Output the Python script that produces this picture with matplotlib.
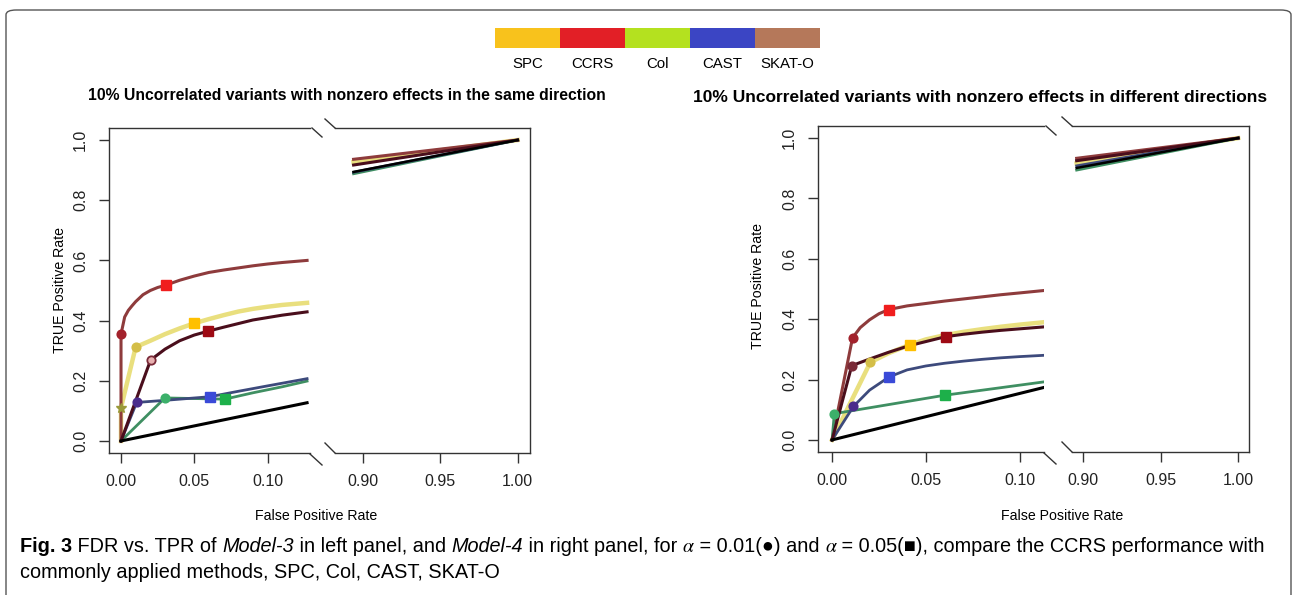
import matplotlib
matplotlib.use("Agg")
import matplotlib.pyplot as plt
from matplotlib.patches import FancyBboxPatch
from matplotlib.lines import Line2D

plt.rcParams['font.family'] = ['Liberation Sans', 'DejaVu Sans']

W, H = 1292, 595

# legend / methods
methods = ["SPC", "CCRS", "Col", "CAST", "SKAT-O"]
legend_colors = ["#F8C21C", "#E21F26", "#B4E11F", "#3B45C4", "#B5785A"]
line_colors = ["#E9DF7E", "#8E3B3C", "#3F8F62", "#3D4A7C", "#4A0E1C"]
line_widths = [3.2, 2.2, 2.0, 2.0, 2.2]
dot_colors = ["#D4BE48", "#A3222C", "#3CB06A", "#4A2C8C", "#7A2A38"]
square_colors = ["#FFC000", "#F01E1E", "#1DB04A", "#3A4AD8", "#9E0A14"]

# ---- Model-3 (left panel), low FPR range ----
m3_spc_fpr = [0, 0, 0.010, 0.02, 0.03, 0.04, 0.05, 0.06, 0.07, 0.08, 0.09, 0.10, 0.11, 0.127]
m3_spc_tpr = [0, 0.11, 0.312, 0.333, 0.355, 0.374, 0.391, 0.405, 0.418, 0.430, 0.439, 0.446, 0.452, 0.459]
m3_ccrs_fpr = [0, 0, 0.0025, 0.005, 0.0075, 0.01, 0.015, 0.02, 0.025, 0.0307, 0.04, 0.05, 0.06, 0.07,
               0.08, 0.09, 0.10, 0.11, 0.127]
m3_ccrs_tpr = [0, 0.355, 0.412, 0.434, 0.449, 0.463, 0.486, 0.500, 0.510, 0.518, 0.534, 0.548, 0.560, 0.568,
               0.575, 0.582, 0.588, 0.593, 0.600]
m3_col_fpr = [0, 0.030, 0.05, 0.0709, 0.09, 0.11, 0.127]
m3_col_tpr = [0, 0.143, 0.141, 0.139, 0.160, 0.180, 0.199]
m3_cast_fpr = [0, 0.0107, 0.03, 0.0607, 0.08, 0.10, 0.127]
m3_cast_tpr = [0, 0.128, 0.135, 0.147, 0.165, 0.183, 0.207]
m3_skat_fpr = [0, 0.0202, 0.03, 0.04, 0.05, 0.0596, 0.07, 0.08, 0.09, 0.10, 0.11, 0.127]
m3_skat_tpr = [0, 0.269, 0.305, 0.333, 0.352, 0.365, 0.378, 0.390, 0.402, 0.410, 0.418, 0.429]
m3_black_fpr = [0, 0.127]
m3_black_tpr = [0, 0.127]
# alpha = 0.01 (dots) and alpha = 0.05 (squares), order as methods
m3_a01_fpr = [0.010, 0.0, 0.030, 0.0107, 0.0202]
m3_a01_tpr = [0.312, 0.355, 0.143, 0.128, 0.269]
m3_a05_fpr = [0.050, 0.0307, 0.0709, 0.0607, 0.0596]
m3_a05_tpr = [0.391, 0.518, 0.139, 0.147, 0.365]
# high FPR range
m3_hi_fpr = [0.894, 1.0]
m3_hi_tpr_start = [0.927, 0.936, 0.888, 0.893, 0.917]
m3_black_hi_tpr = [0.894, 1.0]

# ---- Model-4 (right panel), low FPR range ----
m4_spc_fpr = [0, 0.0204, 0.03, 0.0413, 0.05, 0.06, 0.07, 0.08, 0.09, 0.10, 0.113]
m4_spc_tpr = [0, 0.257, 0.287, 0.315, 0.333, 0.347, 0.358, 0.367, 0.375, 0.382, 0.390]
m4_ccrs_fpr = [0, 0.0109, 0.015, 0.02, 0.025, 0.0302, 0.04, 0.05, 0.06, 0.07, 0.08, 0.09, 0.10, 0.113]
m4_ccrs_tpr = [0, 0.338, 0.372, 0.398, 0.418, 0.432, 0.444, 0.452, 0.460, 0.467, 0.474, 0.481, 0.487, 0.495]
m4_col_fpr = [0, 0.0012, 0.060, 0.115]
m4_col_tpr = [0, 0.087, 0.148, 0.194]
m4_cast_fpr = [0, 0.0114, 0.02, 0.0305, 0.04, 0.05, 0.06, 0.07, 0.08, 0.09, 0.10, 0.115]
m4_cast_tpr = [0, 0.111, 0.165, 0.209, 0.232, 0.245, 0.254, 0.261, 0.267, 0.272, 0.276, 0.281]
m4_skat_fpr = [0, 0.0105, 0.02, 0.03, 0.041, 0.0605, 0.07, 0.08, 0.09, 0.10, 0.114]
m4_skat_tpr = [0, 0.246, 0.268, 0.290, 0.312, 0.342, 0.350, 0.357, 0.363, 0.368, 0.375]
m4_black_fpr = [0, 0.115]
m4_black_tpr = [0, 0.177]
m4_a01_fpr = [0.0204, 0.0109, 0.0012, 0.0114, 0.0105]
m4_a01_tpr = [0.257, 0.338, 0.087, 0.111, 0.246]
m4_a05_fpr = [0.0413, 0.0302, 0.060, 0.0305, 0.0605]
m4_a05_tpr = [0.315, 0.432, 0.148, 0.209, 0.342]
m4_hi_fpr = [0.896, 1.0]
m4_hi_tpr_start = [0.916, 0.933, 0.894, 0.908, 0.925]
m4_black_hi_tpr = [0.901, 1.0]

fig = plt.figure(figsize=(W / 100, H / 100), dpi=100)
renderer = fig.canvas.get_renderer()


def px_axes(x0, y0, x1, y1):
    return fig.add_axes([x0 / W, 1 - y1 / H, (x1 - x0) / W, (y1 - y0) / H])


def px_line(x0, y0, x1, y1):
    fig.add_artist(Line2D([x0 / W, x1 / W], [1 - y0 / H, 1 - y1 / H], transform=fig.transFigure,
                          color="#333333", lw=1))


def draw_panel(box_lo, box_hi, curves, black, a01, a05, hi_fpr, hi_start, black_hi, xlim_lo, xlim_hi):
    ax_lo = px_axes(*box_lo)
    ax_hi = px_axes(*box_hi)
    for ax in (ax_lo, ax_hi):
        ax.set_ylim(-0.04, 1.04)
        for sp in ax.spines.values():
            sp.set_color("#333333")
            sp.set_linewidth(1)
        ax.tick_params(length=7, width=1, color="#333333", labelsize=11.5, labelcolor="#222222", pad=8)

    for i, (fpr, tpr) in enumerate(curves):
        ax_lo.plot(fpr, tpr, color=line_colors[i], lw=line_widths[i], zorder=2)
        ax_hi.plot(hi_fpr, [hi_start[i], 1.0], color=line_colors[i], lw=line_widths[i], zorder=2)
    ax_lo.plot(black[0], black[1], color="black", lw=2.2, zorder=3)
    ax_hi.plot(hi_fpr, black_hi, color="black", lw=1.8, zorder=3)

    for i in range(len(methods)):
        face = "#E8B0B0" if methods[i] == "SKAT-O" and curves is m3_curves else dot_colors[i]
        ax_lo.plot(a01[0][i], a01[1][i], "o", ms=6, mfc=face, mec=dot_colors[i], mew=1.3, zorder=4)
        ax_lo.plot(a05[0][i], a05[1][i], "s", ms=6.5, color=square_colors[i], zorder=4)

    ax_lo.set_xlim(*xlim_lo)
    ax_lo.spines["right"].set_visible(False)
    ax_lo.set_xticks([0, 0.05, 0.10], ["0.00", "0.05", "0.10"])
    ax_lo.set_yticks([0, 0.2, 0.4, 0.6, 0.8, 1.0], ["0.0", "0.2", "0.4", "0.6", "0.8", "1.0"])
    for lab in ax_lo.get_yticklabels():
        lab.set_rotation(90)
        lab.set_va("center")

    ax_hi.set_xlim(*xlim_hi)
    ax_hi.spines["left"].set_visible(False)
    ax_hi.set_yticks([])
    ax_hi.set_xticks([0.90, 0.95, 1.00], ["0.90", "0.95", "1.00"])

    # axis break marks
    l, t, r, b = box_lo
    px_line(r + 2, t, r + 12, t + 9)
    px_line(r, b + 1, r + 12, b + 12)
    l, t, r, b = box_hi
    px_line(l - 10, t - 9, l, t)
    px_line(l - 10, b - 10, l, b)


m3_curves = [(m3_spc_fpr, m3_spc_tpr), (m3_ccrs_fpr, m3_ccrs_tpr), (m3_col_fpr, m3_col_tpr),
             (m3_cast_fpr, m3_cast_tpr), (m3_skat_fpr, m3_skat_tpr)]
m4_curves = [(m4_spc_fpr, m4_spc_tpr), (m4_ccrs_fpr, m4_ccrs_tpr), (m4_col_fpr, m4_col_tpr),
             (m4_cast_fpr, m4_cast_tpr), (m4_skat_fpr, m4_skat_tpr)]

draw_panel((109, 128, 310, 453), (335, 128, 530, 453), m3_curves, (m3_black_fpr, m3_black_tpr),
           (m3_a01_fpr, m3_a01_tpr), (m3_a05_fpr, m3_a05_tpr), m3_hi_fpr, m3_hi_tpr_start,
           m3_black_hi_tpr, (-0.0082, 0.129), (0.882, 1.008))
draw_panel((818, 126, 1044, 452), (1072, 126, 1249, 452), m4_curves, (m4_black_fpr, m4_black_tpr),
           (m4_a01_fpr, m4_a01_tpr), (m4_a05_fpr, m4_a05_tpr), m4_hi_fpr, m4_hi_tpr_start,
           m4_black_hi_tpr, (-0.0075, 0.113), (0.893, 1.007))

# olive marker on SPC curve at FPR = 0 (left panel)
fig.axes[0].plot(m3_spc_fpr[1], m3_spc_tpr[1], "*", ms=7, color="#9A9A3A", zorder=4)

# titles and axis labels
fig.text(88 / W, 1 - 95 / H, "10% Uncorrelated variants with nonzero effects in the same direction",
         fontsize=11.3, fontweight="bold", va="center", ha="left")
fig.text(693 / W, 1 - 97 / H, "10% Uncorrelated variants with nonzero effects in different directions",
         fontsize=12.55, fontweight="bold", va="center", ha="left")
for x, y in [(60, 290), (758, 286)]:
    fig.text(x / W, 1 - y / H, "TRUE Positive Rate", rotation=90, fontsize=10.2, ha="center", va="center")
for x in (316, 1062):
    fig.text(x / W, 1 - 516 / H, "False Positive Rate", fontsize=10.2, ha="center", va="center")

# colour legend bar
lax = px_axes(495, 28, 820, 48)
lax.bar(range(len(methods)), 1, width=1.0, color=legend_colors)
lax.set_xlim(-0.5, len(methods) - 0.5)
lax.set_ylim(0, 1)
lax.axis("off")
for i, name in enumerate(methods):
    fig.text((495 + (i + 0.5) * 325 / len(methods)) / W, 1 - 64 / H, name, fontsize=10.8,
             ha="center", va="center")

# rounded frame
fig.add_artist(FancyBboxPatch((6 / W, -0.05), (1291 - 6) / W, 1 - 10 / H + 0.05,
                              boxstyle="round,pad=0,rounding_size=0.008", transform=fig.transFigure,
                              fill=False, ec="#555555", lw=1))

# caption (mixed styles drawn piece by piece)
cap_font = ["Liberation Sans", "DejaVu Sans"]
cap_size = 14.3


def text_width(s, **kw):
    t1 = fig.text(0, 0, "|" + s + "|", **kw)
    t2 = fig.text(0, 0, "||", **kw)
    w = t1.get_window_extent(renderer).width - t2.get_window_extent(renderer).width
    t1.remove()
    t2.remove()
    return w


normal = {}
bold = {"fontweight": "bold"}
ital = {"fontstyle": "italic"}
math = {"math_fontfamily": "stix"}
line1 = [("Fig. 3", bold), (" FDR vs. TPR of ", normal), ("Model-3", ital),
         (" in left panel, and ", normal), ("Model-4", ital), (" in right panel, for ", normal),
         (r"$\alpha$", math), (" = 0.01(\u25cf) and ", normal), (r"$\alpha$", math),
         (" = 0.05(\u25a0), compare the CCRS performance with", normal)]
line2 = [("commonly applied methods, SPC, Col, CAST, SKAT-O", normal)]
for y, pieces in [(552, line1), (578, line2)]:
    x = 20
    for s, kw in pieces:
        kw = dict(kw, fontsize=cap_size, family=cap_font)
        fig.text(x / W, 1 - y / H, s, va="baseline", ha="left", **kw)
        x += text_width(s, **kw)

fig.savefig("out.png", dpi=100)
